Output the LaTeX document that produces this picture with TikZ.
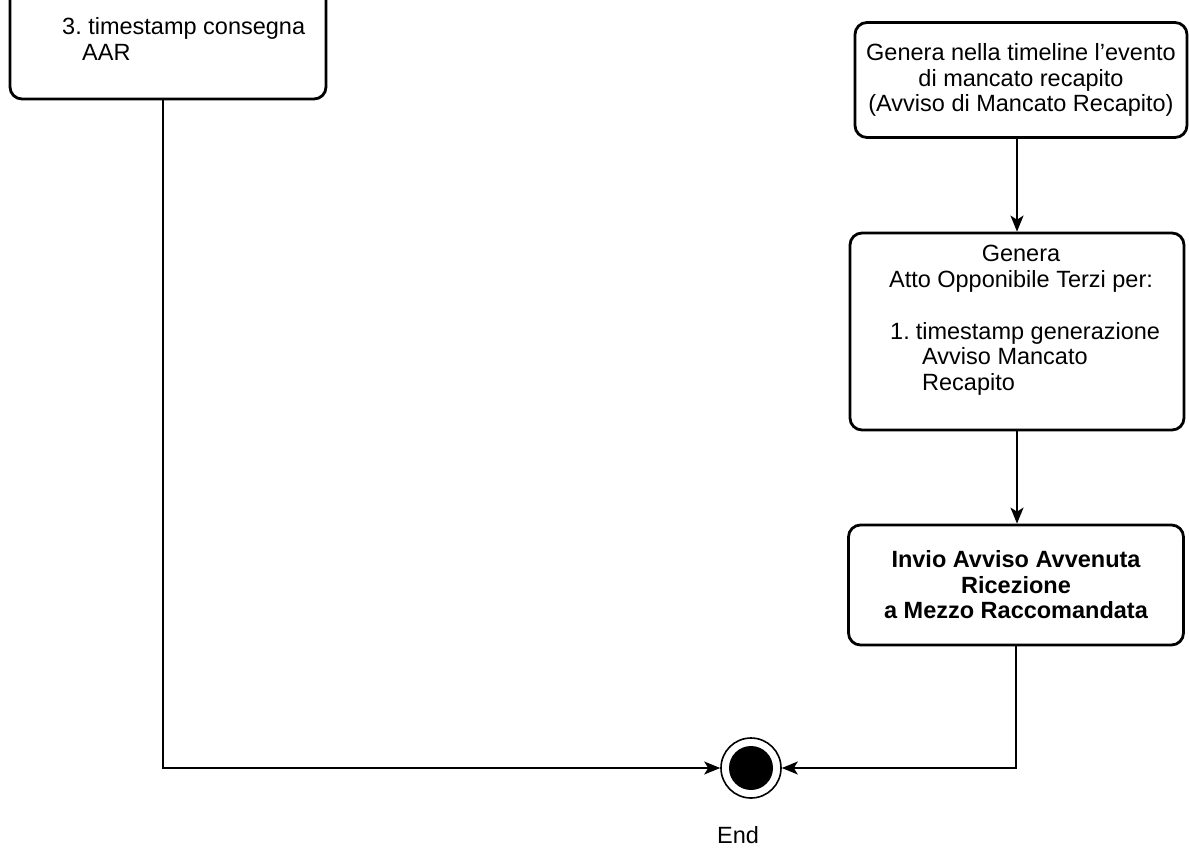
\documentclass[tikz,border=0pt]{standalone}
\usepackage{fontspec}
\setmainfont{Liberation Sans}
\usetikzlibrary{arrows.meta}
\begin{document}
\begin{tikzpicture}[x=1pt,y=-1pt,
  box/.style={draw, line width=2.8pt, rounded corners=12pt, inner sep=0pt},
  txt/.style={font=\fontsize{23.5}{25.5}\selectfont, inner sep=0pt},
  flow/.style={line width=1.6pt, -{Stealth[length=16pt,width=13pt,inset=4pt]}},
]
\path[use as bounding box] (0,0) rectangle (1189,847);
\clip (0,0) rectangle (1189,847);

% activity continuing from above (only its lower part is visible)
\node[box, minimum width=316pt, minimum height=160pt] (aar) at (168,19) {};
% multi-line nodes: "base" is the baseline of the last line
\node[txt, anchor=base west, align=left] (aartxt) at (62,60)
  {3.\ timestamp consegna\\\hspace*{20pt}AAR};

% right column
\node[box, txt, align=center, minimum width=332pt, minimum height=115pt] (evt) at (1021,80)
  {Genera nella timeline l'evento\\di mancato recapito\\(Avviso di Mancato Recapito)};

\node[box, minimum width=334pt, minimum height=197pt] (aot) at (1017,331.5) {};
\node[txt, anchor=base, align=center] (aothead) at (1021,287)
  {Genera\\Atto Opponibile Terzi per:};
\node[txt, anchor=base west, align=left] (aotlist) at (890,390)
  {1.\hspace{6pt}timestamp generazione\\\hspace*{32pt}Avviso Mancato\\\hspace*{32pt}Recapito};

\node[box, txt, font=\fontsize{23.5}{25.5}\selectfont\bfseries, align=center,
      minimum width=335pt, minimum height=120pt] (inv) at (1016,585)
  {Invio Avviso Avvenuta\\Ricezione\\a Mezzo Raccomandata};

% final node
\node[circle, draw, line width=1.6pt, minimum size=60pt, inner sep=0pt] (end) at (751,768) {};
\fill (end.center) circle (22pt);
\node[txt, anchor=base] (endlbl) at (738,843) {End};

% connectors
\draw[flow] (aot.north |- evt.south) -- (aot.north);
\draw[flow] (aot.south) -- (aot.south |- inv.north);
\draw[flow] (inv.south) |- (end.east);
\draw[flow] ([xshift=-5pt]aar.south) |- (end.west);
\end{tikzpicture}
\end{document}
